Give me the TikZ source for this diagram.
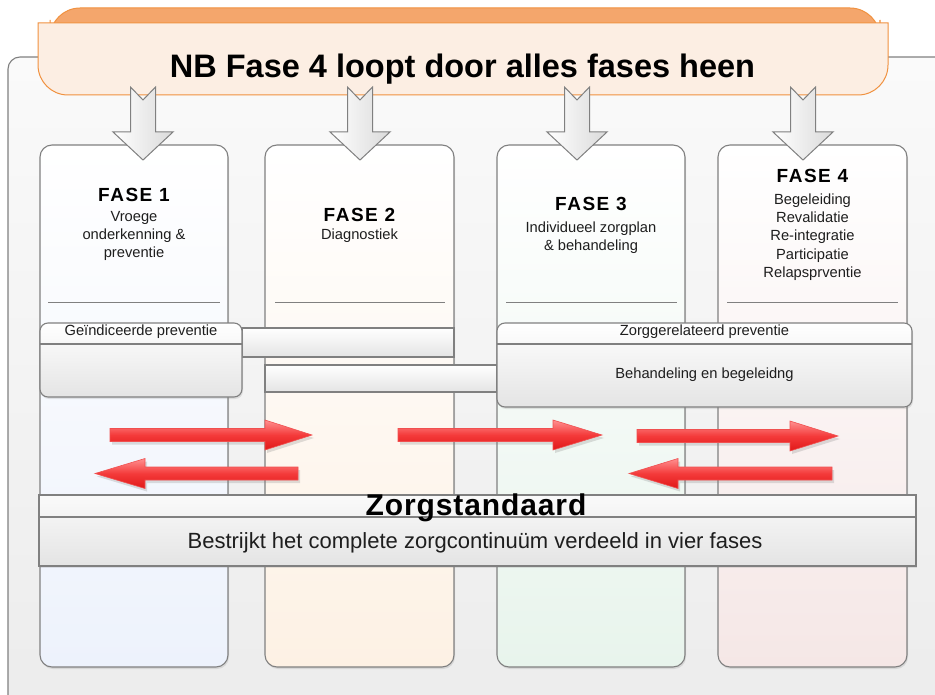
\documentclass[tikz,border=0pt]{standalone}
\usepackage{fontspec}
\setmainfont{Liberation Sans}
\newfontfamily\fasefont[LetterSpace=8]{Liberation Sans}
\newfontfamily\zsfont[LetterSpace=3]{Liberation Sans}
\usetikzlibrary{shadows}
\definecolor{linegray}{HTML}{808080}
\definecolor{frametop}{HTML}{FAFAFA}
\definecolor{framebot}{HTML}{ECECEC}
\definecolor{tabfill}{HTML}{F4A66C}
\definecolor{orline}{HTML}{F0913F}
\definecolor{bannerfill}{HTML}{FCEEE3}
\definecolor{cola}{HTML}{EDF2FC}
\definecolor{colb}{HTML}{FDF1E4}
\definecolor{colc}{HTML}{E8F4EC}
\definecolor{cold}{HTML}{F5E7E6}
\definecolor{redtop}{HTML}{FF9090}
\definecolor{redmid}{HTML}{F43A3A}
\definecolor{redbot}{HTML}{E01818}
\definecolor{redline}{HTML}{F05050}
\definecolor{boxbot}{HTML}{E4E4E4}
\definecolor{arrbot}{HTML}{DADADA}
\definecolor{txt}{HTML}{1E1E1E}
\begin{document}
\begin{tikzpicture}[x=1pt,y=-1pt,
  line/.style={draw=linegray, line width=1.1pt},
  colbox/.style={line, rounded corners=12pt, minimum width=188pt, minimum height=522pt, inner sep=0pt,
    top color=white, bottom color=#1,
    drop shadow={shadow xshift=1pt, shadow yshift=-2pt, opacity=.2}},
  barbox/.style={line, inner sep=0pt, top color=white, bottom color=boxbot},
  grpbox/.style={line, rounded corners=8pt, inner sep=0pt, top color=white, bottom color=boxbot,
    drop shadow={shadow xshift=1pt, shadow yshift=-2pt, opacity=.2}},
  zsbox/.style={line, inner sep=0pt, top color=frametop, bottom color=boxbot,
    drop shadow={shadow xshift=1pt, shadow yshift=-2pt, opacity=.2}},
  sepline/.style={draw=linegray, line width=0.8pt},
  dnarr/.style={draw=linegray, line width=1pt, line join=miter, left color=white, right color=arrbot},
  redarr/.style={draw=redline, line width=0.6pt, top color=redtop, bottom color=redbot, middle color=redmid,
    drop shadow={shadow xshift=2pt, shadow yshift=-3pt, opacity=.25}},
  fase/.style={font=\fasefont\bfseries\fontsize{19}{22}\selectfont, anchor=base, inner sep=0pt, text=black},
  sub/.style={font=\fontsize{14.7}{18}\selectfont, align=center, anchor=north, inner sep=0pt, text=txt},
  lbl/.style={font=\fontsize{14.7}{18}\selectfont, anchor=base, inner sep=0pt, text=txt}
]
\useasboundingbox (0,0) rectangle (935,695);
\clip (0,0) rectangle (935,695);

% outer frame
\draw[line, rounded corners=12pt, top color=frametop, bottom color=framebot] (8,57) rectangle (960,720);

% banner
\draw[draw=orline, line width=1pt, fill=tabfill, rounded corners=30pt] (50,8) rectangle (880,50);
\draw[draw=orline, line width=1pt, fill=bannerfill]
  (38,23) -- (888,23) -- (888,65) arc[start angle=0, end angle=-90, radius=30pt]
  -- (68,95) arc[start angle=-90, end angle=-180, radius=30pt] -- cycle;
\node[font=\bfseries\fontsize{32.5}{36}\selectfont, anchor=base, inner sep=0pt, text=black] (nbt) at (462.5,78) {NB Fase 4 loopt door alles fases heen};

% columns
\node[colbox=cola] (c1) at (134,406) {};
\node[colbox=colb, minimum width=189pt] (c2) at (359.5,406) {};
\node[colbox=colc] (c3) at (591,406) {};
\node[colbox=cold, minimum width=189pt] (c4) at (812.5,406) {};

\draw[sepline] (48,302) -- (220,302);
\draw[sepline] (275,302) -- (445,302);
\draw[sepline] (506,302) -- (677,302);
\draw[sepline] (727,302) -- (898,302);

% column texts
\node[fase] (f1) at (134,202) {FASE 1};
\node[sub] (s1) at (134,211.5) {Vroege\\onderkenning \&\\preventie};
\node[fase] (f2) at (359.5,222) {FASE 2};
\node[sub] (s2) at (359.5,228.5) {Diagnostiek};
\node[fase] (f3) at (591,211) {FASE 3};
\node[sub] (s3) at (591,221.5) {Individueel zorgplan\\\& behandeling};
\node[fase] (f4) at (812.5,183) {FASE 4};
\node[sub, font=\fontsize{14.7}{18.3}\selectfont] (s4) at (812.5,193.5) {Begeleiding\\Revalidatie\\Re-integratie\\Participatie\\Relapsprventie};

% bars and boxes
\node[barbox, minimum width=212pt, minimum height=29pt] (bara) at (348,342.5) {};
\node[barbox, minimum width=232pt, minimum height=27pt] (barb) at (381,378.5) {};
\node[grpbox, minimum width=202pt, minimum height=74pt] (gi) at (141,360) {};
\draw[line] (40,344) -- (242,344);
\node[lbl] (gil) at (141,335) {Geïndiceerde preventie};
\node[grpbox, minimum width=415pt, minimum height=84pt] (zg) at (704.5,365) {};
\draw[line] (497,344) -- (912,344);
\node[lbl] (zgl) at (704.5,335) {Zorggerelateerd preventie};
\node[lbl] (bhl) at (704.5,378) {Behandeling en begeleidng};

% red arrows
\foreach \t/\b/\tip/\y in {110/265/312/435, 398/553/602/435, 637/790/838/436, 298/145/95/473.5, 832/678/629/473.5}{
  \draw[redarr] (\t,\y-6.5) -- (\b,\y-6.5) -- (\b,\y-15) -- (\tip,\y) -- (\b,\y+15) -- (\b,\y+6.5) -- (\t,\y+6.5) -- cycle;
}

% zorgstandaard
\node[zsbox, minimum width=877pt, minimum height=71pt] (zs) at (477.5,530.5) {};
\draw[line] (39,517) -- (916,517);
\node[font=\zsfont\bfseries\fontsize{30}{34}\selectfont, anchor=base, inner sep=0pt, text=black] (zst) at (476,515) {Zorgstandaard};
\node[font=\fontsize{22}{26}\selectfont, anchor=base, inner sep=0pt, text=txt] (zsb) at (475,548) {Bestrijkt het complete zorgcontinuüm verdeeld in vier fases};

% down arrows
\foreach \cx in {143,360,577,803}{
  \draw[dnarr] (\cx-12.5,87) -- (\cx,100) -- (\cx+12.5,87) -- (\cx+12.5,132) -- (\cx+30,132) -- (\cx,160) -- (\cx-30,132) -- (\cx-12.5,132) -- cycle;
}
\end{tikzpicture}
\end{document}
